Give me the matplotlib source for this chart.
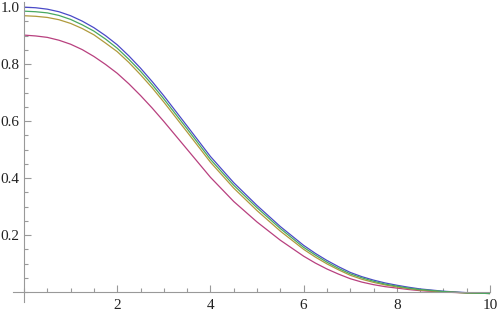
import matplotlib
matplotlib.use("Agg")
import matplotlib.pyplot as plt
from matplotlib.ticker import MultipleLocator

# values (quarter steps where the curves bend most)
x = [0, 0.25, 0.5, 0.75, 1, 1.25, 1.5, 1.75, 2, 2.25, 2.5, 2.75, 3, 3.5, 4, 4.5, 5, 5.5,
     6, 6.25, 6.5, 6.75, 7, 7.25, 7.5, 7.75, 8, 8.25, 8.5, 9, 9.5, 10]
blue = [1.000, 0.998, 0.993, 0.984, 0.970, 0.951, 0.928, 0.900, 0.868, 0.829, 0.786, 0.739,
        0.689, 0.583, 0.476, 0.384, 0.304, 0.230,
        0.164, 0.136, 0.111, 0.089, 0.069, 0.054, 0.042, 0.032, 0.024, 0.017, 0.011,
        0.003, -0.002, -0.005]
green = [0.986, 0.984, 0.980, 0.971, 0.957, 0.938, 0.916, 0.888, 0.856, 0.817, 0.775, 0.728,
         0.678, 0.573, 0.466, 0.375, 0.296, 0.223,
         0.157, 0.130, 0.105, 0.083, 0.064, 0.050, 0.038, 0.028, 0.021, 0.014, 0.009,
         0.002, -0.003, -0.005]
yellow = [0.970, 0.968, 0.964, 0.956, 0.943, 0.925, 0.903, 0.874, 0.844, 0.806, 0.763, 0.717,
          0.667, 0.562, 0.456, 0.365, 0.286, 0.214,
          0.150, 0.123, 0.099, 0.078, 0.059, 0.045, 0.034, 0.025, 0.018, 0.012, 0.007,
          0.001, -0.003, -0.005]
magenta = [0.902, 0.899, 0.894, 0.884, 0.870, 0.851, 0.827, 0.799, 0.768, 0.731, 0.690, 0.646,
           0.599, 0.501, 0.403, 0.318, 0.246, 0.182,
           0.126, 0.102, 0.081, 0.063, 0.047, 0.035, 0.026, 0.019, 0.014, 0.009, 0.005,
           0.000, -0.003, -0.005]

series = [
    (blue, "#4a4ac8"),
    (magenta, "#b8407f"),
    (yellow, "#b09a3c"),
    (green, "#48a860"),
]

plt.rcParams["font.family"] = ["Liberation Serif", "DejaVu Serif"]

fig = plt.figure(figsize=(5.0, 3.13), dpi=100)
ax = fig.add_axes([0.026, 0.035, 0.955, 0.958])

for ys, c in series:
    ax.plot(x, ys, color=c, lw=0.9, solid_capstyle="butt")

ax.set_xlim(-0.236, 10.01)
ax.set_ylim(-0.035, 1.0175)

for s in ["top", "right"]:
    ax.spines[s].set_visible(False)
ax.spines["left"].set_position(("data", 0))
ax.spines["bottom"].set_position(("data", 0))
for s in ["left", "bottom"]:
    ax.spines[s].set_color("#999999")
    ax.spines[s].set_linewidth(0.8)

ax.xaxis.set_minor_locator(MultipleLocator(0.5))
ax.yaxis.set_minor_locator(MultipleLocator(0.05))
ax.set_xticks([2, 4, 6, 8, 10])
ax.set_yticks([0.2, 0.4, 0.6, 0.8, 1.0])
ax.set_yticklabels(["0.2", "0.4", "0.6", "0.8", "1.0"])

ax.tick_params(which="both", direction="in", color="#999999", width=0.8,
               labelsize=11, labelcolor="#222222")
ax.tick_params(which="major", length=5, pad=3)
ax.tick_params(which="minor", length=3)
ax.tick_params(axis="x", pad=5)

fig.savefig("out.png", dpi=100)
